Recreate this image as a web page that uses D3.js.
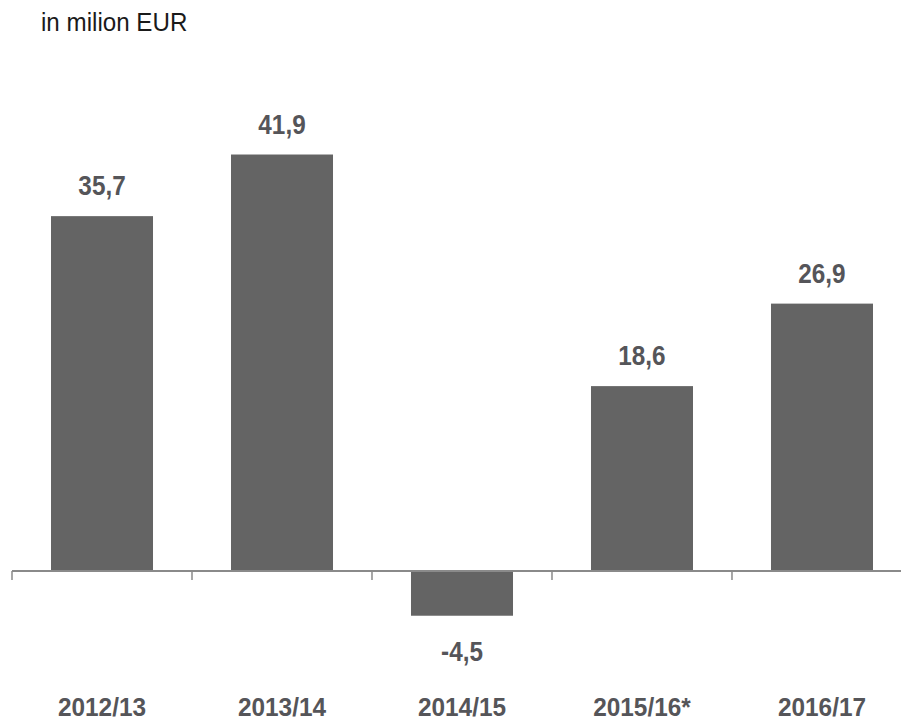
<!DOCTYPE html>
<html>
  <head>
    <meta charset="utf-8" />
    <script src="https://d3js.org/d3.v7.min.js"></script>
    <style>
      body {
        margin: 0;
        background: #fff;
      }
      .lbl {
        font-family: "Liberation Sans", Arial, sans-serif;
        font-weight: bold;
        fill: #555559;
      }
    </style>
  </head>
  <body>
    <div id="my_chart"></div>
    <script>
      const categories = ["2012/13", "2013/14", "2014/15", "2015/16*", "2016/17"];
      const values = [35.7, 41.9, -4.5, 18.6, 26.9];
      const unitLabel = "in milion EUR";

      const width = 901,
        height = 720;
      const baseY = 571;

      const svg = d3
        .select("#my_chart")
        .append("svg")
        .attr("width", width)
        .attr("height", height);

      // x: band scale, 180px per category
      const x = d3
        .scaleBand()
        .domain(categories)
        .range([12, 912])
        .paddingInner(0.4333)
        .paddingOuter(0.2167);

      // y: roughly 9.94px per million
      const y = d3.scaleLinear().domain([-10, 45]).range([baseY + 99.4, baseY - 447.3]);

      const fmt = (v) => d3.format(".1f")(v).replace(".", ",").replace("\u2212", "-");

      // unit label
      svg
        .append("text")
        .attr("transform", "translate(41,31) scale(0.93,1)")
        .attr("font-family", "Liberation Sans, Arial, sans-serif")
        .attr("font-size", 26)
        .attr("fill", "#1a1a1a")
        .text(unitLabel);

      // bars
      svg
        .selectAll(".bar")
        .data(categories)
        .enter()
        .append("rect")
        .attr("class", "bar")
        .attr("x", (d) => x(d))
        .attr("width", x.bandwidth())
        .attr("y", (d, i) => y(Math.max(0, values[i])))
        .attr("height", (d, i) => Math.abs(y(values[i]) - y(0)))
        .attr("fill", "#646464");

      // axis line and ticks at band boundaries
      svg
        .append("line")
        .attr("x1", x.range()[0])
        .attr("x2", width)
        .attr("y1", y(0))
        .attr("y2", y(0))
        .attr("stroke", "#8a8a8a")
        .attr("stroke-width", 2);

      const tickPos = d3.range(categories.length + 1).map((i) => x.range()[0] + i * x.step());
      svg
        .selectAll(".tick")
        .data(tickPos)
        .enter()
        .append("line")
        .attr("x1", (d) => d)
        .attr("x2", (d) => d)
        .attr("y1", y(0))
        .attr("y2", y(0) + 9)
        .attr("stroke", "#8a8a8a")
        .attr("stroke-width", 1.5);

      // value labels
      svg
        .selectAll(".val")
        .data(categories)
        .enter()
        .append("text")
        .attr("class", "lbl")
        .attr("transform", (d, i) => {
          const cx = x(d) + x.bandwidth() / 2;
          const ty = values[i] >= 0 ? y(values[i]) - 21 : y(values[i]) + 45;
          return `translate(${cx},${ty}) scale(0.9,1)`;
        })
        .attr("text-anchor", "middle")
        .attr("font-size", 27)
        .text((d, i) => fmt(values[i]));

      // category labels
      svg
        .selectAll(".cat")
        .data(categories)
        .enter()
        .append("text")
        .attr("class", "lbl")
        .attr("transform", (d) => `translate(${x(d) + x.bandwidth() / 2},716) scale(0.92,1)`)
        .attr("text-anchor", "middle")
        .attr("font-size", 26.5)
        .text((d) => d);
    </script>
  </body>
</html>
